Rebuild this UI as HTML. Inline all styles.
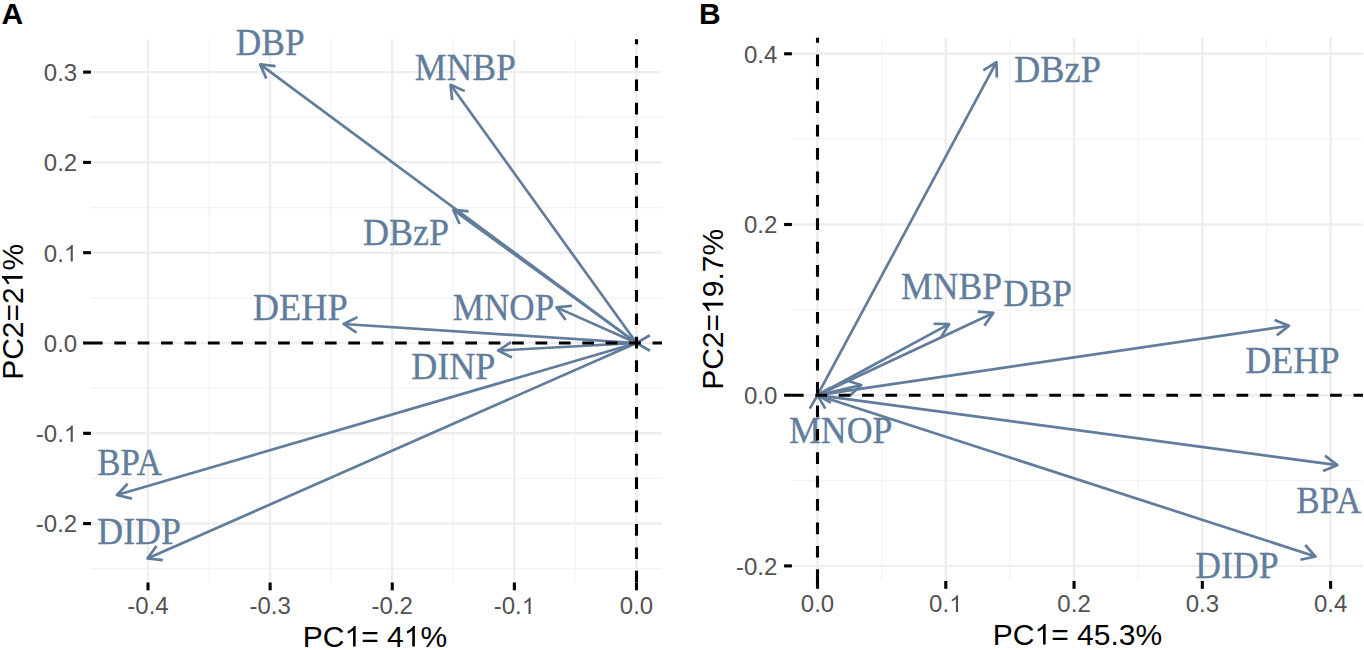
<!DOCTYPE html>
<html><head><meta charset="utf-8"><title>PCA biplots</title>
<style>html,body{margin:0;padding:0;background:#fff;width:1364px;height:650px;overflow:hidden}svg{display:block}</style>
</head><body>
<svg width="1364" height="650" viewBox="0 0 1364 650">
<rect width="1364" height="650" fill="#fff"/>
<line x1="209.06" y1="39.20" x2="209.06" y2="582.50" stroke="#f3f3f3" stroke-width="1.3" />
<line x1="331.19" y1="39.20" x2="331.19" y2="582.50" stroke="#f3f3f3" stroke-width="1.3" />
<line x1="453.31" y1="39.20" x2="453.31" y2="582.50" stroke="#f3f3f3" stroke-width="1.3" />
<line x1="575.44" y1="39.20" x2="575.44" y2="582.50" stroke="#f3f3f3" stroke-width="1.3" />
<line x1="90.90" y1="117.25" x2="662.00" y2="117.25" stroke="#f3f3f3" stroke-width="1.3" />
<line x1="90.90" y1="207.55" x2="662.00" y2="207.55" stroke="#f3f3f3" stroke-width="1.3" />
<line x1="90.90" y1="297.85" x2="662.00" y2="297.85" stroke="#f3f3f3" stroke-width="1.3" />
<line x1="90.90" y1="388.15" x2="662.00" y2="388.15" stroke="#f3f3f3" stroke-width="1.3" />
<line x1="90.90" y1="478.45" x2="662.00" y2="478.45" stroke="#f3f3f3" stroke-width="1.3" />
<line x1="90.90" y1="568.75" x2="662.00" y2="568.75" stroke="#f3f3f3" stroke-width="1.3" />
<line x1="148.00" y1="39.20" x2="148.00" y2="582.50" stroke="#eeeeee" stroke-width="2.4" />
<line x1="270.12" y1="39.20" x2="270.12" y2="582.50" stroke="#eeeeee" stroke-width="2.4" />
<line x1="392.25" y1="39.20" x2="392.25" y2="582.50" stroke="#eeeeee" stroke-width="2.4" />
<line x1="514.38" y1="39.20" x2="514.38" y2="582.50" stroke="#eeeeee" stroke-width="2.4" />
<line x1="636.50" y1="39.20" x2="636.50" y2="582.50" stroke="#eeeeee" stroke-width="2.4" />
<line x1="90.90" y1="72.10" x2="662.00" y2="72.10" stroke="#eeeeee" stroke-width="2.4" />
<line x1="90.90" y1="162.40" x2="662.00" y2="162.40" stroke="#eeeeee" stroke-width="2.4" />
<line x1="90.90" y1="252.70" x2="662.00" y2="252.70" stroke="#eeeeee" stroke-width="2.4" />
<line x1="90.90" y1="343.00" x2="662.00" y2="343.00" stroke="#eeeeee" stroke-width="2.4" />
<line x1="90.90" y1="433.30" x2="662.00" y2="433.30" stroke="#eeeeee" stroke-width="2.4" />
<line x1="90.90" y1="523.60" x2="662.00" y2="523.60" stroke="#eeeeee" stroke-width="2.4" />
<line x1="881.64" y1="37.80" x2="881.64" y2="581.00" stroke="#f3f3f3" stroke-width="1.3" />
<line x1="1009.91" y1="37.80" x2="1009.91" y2="581.00" stroke="#f3f3f3" stroke-width="1.3" />
<line x1="1138.19" y1="37.80" x2="1138.19" y2="581.00" stroke="#f3f3f3" stroke-width="1.3" />
<line x1="1266.46" y1="37.80" x2="1266.46" y2="581.00" stroke="#f3f3f3" stroke-width="1.3" />
<line x1="791.90" y1="139.15" x2="1363.00" y2="139.15" stroke="#f3f3f3" stroke-width="1.3" />
<line x1="791.90" y1="309.85" x2="1363.00" y2="309.85" stroke="#f3f3f3" stroke-width="1.3" />
<line x1="791.90" y1="480.55" x2="1363.00" y2="480.55" stroke="#f3f3f3" stroke-width="1.3" />
<line x1="817.50" y1="37.80" x2="817.50" y2="581.00" stroke="#eeeeee" stroke-width="2.4" />
<line x1="945.77" y1="37.80" x2="945.77" y2="581.00" stroke="#eeeeee" stroke-width="2.4" />
<line x1="1074.05" y1="37.80" x2="1074.05" y2="581.00" stroke="#eeeeee" stroke-width="2.4" />
<line x1="1202.33" y1="37.80" x2="1202.33" y2="581.00" stroke="#eeeeee" stroke-width="2.4" />
<line x1="1330.60" y1="37.80" x2="1330.60" y2="581.00" stroke="#eeeeee" stroke-width="2.4" />
<line x1="791.90" y1="53.80" x2="1363.00" y2="53.80" stroke="#eeeeee" stroke-width="2.4" />
<line x1="791.90" y1="224.50" x2="1363.00" y2="224.50" stroke="#eeeeee" stroke-width="2.4" />
<line x1="791.90" y1="395.20" x2="1363.00" y2="395.20" stroke="#eeeeee" stroke-width="2.4" />
<line x1="791.90" y1="565.90" x2="1363.00" y2="565.90" stroke="#eeeeee" stroke-width="2.4" />
<line x1="636.50" y1="343.00" x2="260.16" y2="64.41" stroke="#627d9c" stroke-width="2.7" />
<polyline points="266.34,78.63 260.16,64.41 275.56,66.17" fill="none" stroke="#627d9c" stroke-width="2.7" stroke-linejoin="round"/>
<line x1="636.50" y1="343.00" x2="450.60" y2="84.77" stroke="#627d9c" stroke-width="2.7" />
<polyline points="452.15,100.20 450.60,84.77 464.73,91.14" fill="none" stroke="#627d9c" stroke-width="2.7" stroke-linejoin="round"/>
<line x1="636.50" y1="343.00" x2="453.27" y2="209.81" stroke="#627d9c" stroke-width="2.7" />
<polyline points="459.57,223.97 453.27,209.81 468.69,211.43" fill="none" stroke="#627d9c" stroke-width="2.7" stroke-linejoin="round"/>
<line x1="636.50" y1="343.00" x2="556.50" y2="307.39" stroke="#627d9c" stroke-width="2.7" />
<polyline points="565.61,319.93 556.50,307.39 571.91,305.77" fill="none" stroke="#627d9c" stroke-width="2.7" stroke-linejoin="round"/>
<line x1="636.50" y1="343.00" x2="343.60" y2="323.98" stroke="#627d9c" stroke-width="2.7" />
<polyline points="356.49,332.58 343.60,323.98 357.49,317.11" fill="none" stroke="#627d9c" stroke-width="2.7" stroke-linejoin="round"/>
<line x1="636.50" y1="343.00" x2="498.10" y2="350.53" stroke="#627d9c" stroke-width="2.7" />
<polyline points="511.92,357.54 498.10,350.53 511.08,342.07" fill="none" stroke="#627d9c" stroke-width="2.7" stroke-linejoin="round"/>
<line x1="636.50" y1="343.00" x2="116.95" y2="494.96" stroke="#627d9c" stroke-width="2.7" />
<polyline points="132.01,498.63 116.95,494.96 127.66,483.76" fill="none" stroke="#627d9c" stroke-width="2.7" stroke-linejoin="round"/>
<line x1="636.50" y1="343.00" x2="147.40" y2="558.52" stroke="#627d9c" stroke-width="2.7" />
<polyline points="162.81,560.20 147.40,558.52 156.56,546.01" fill="none" stroke="#627d9c" stroke-width="2.7" stroke-linejoin="round"/>
<polyline points="649.92,350.75 636.50,343.00 649.92,335.25" fill="none" stroke="#627d9c" stroke-width="2.7" stroke-linejoin="round"/>
<line x1="817.50" y1="395.20" x2="996.43" y2="62.16" stroke="#627d9c" stroke-width="2.7" />
<polyline points="983.25,70.31 996.43,62.16 996.91,77.65" fill="none" stroke="#627d9c" stroke-width="2.7" stroke-linejoin="round"/>
<line x1="817.50" y1="395.20" x2="949.04" y2="324.17" stroke="#627d9c" stroke-width="2.7" />
<polyline points="933.55,323.73 949.04,324.17 940.91,337.37" fill="none" stroke="#627d9c" stroke-width="2.7" stroke-linejoin="round"/>
<line x1="817.50" y1="395.20" x2="993.31" y2="312.91" stroke="#627d9c" stroke-width="2.7" />
<polyline points="977.87,311.58 993.31,312.91 984.44,325.62" fill="none" stroke="#627d9c" stroke-width="2.7" stroke-linejoin="round"/>
<line x1="817.50" y1="395.20" x2="1289.01" y2="325.77" stroke="#627d9c" stroke-width="2.7" />
<polyline points="1274.60,320.06 1289.01,325.77 1276.86,335.40" fill="none" stroke="#627d9c" stroke-width="2.7" stroke-linejoin="round"/>
<line x1="817.50" y1="395.20" x2="1337.31" y2="465.14" stroke="#627d9c" stroke-width="2.7" />
<polyline points="1325.04,455.67 1337.31,465.14 1322.97,471.03" fill="none" stroke="#627d9c" stroke-width="2.7" stroke-linejoin="round"/>
<line x1="817.50" y1="395.20" x2="1315.56" y2="556.53" stroke="#627d9c" stroke-width="2.7" />
<polyline points="1305.18,545.02 1315.56,556.53 1300.40,559.77" fill="none" stroke="#627d9c" stroke-width="2.7" stroke-linejoin="round"/>
<line x1="817.50" y1="395.20" x2="861.33" y2="384.97" stroke="#627d9c" stroke-width="2.7" />
<polyline points="846.50,380.48 861.33,384.97 850.02,395.57" fill="none" stroke="#627d9c" stroke-width="2.7" stroke-linejoin="round"/>
<polyline points="830.92,402.95 817.50,395.20 830.92,387.45" fill="none" stroke="#627d9c" stroke-width="2.7" stroke-linejoin="round"/>
<polyline points="809.75,408.62 817.50,395.20 825.25,408.62" fill="none" stroke="#627d9c" stroke-width="2.7" stroke-linejoin="round"/>
<text transform="translate(235.84,55.20) scale(0.9079,1)" font-family="Liberation Serif" font-size="38.9" fill="#627d9c" stroke="#627d9c" stroke-width="0.3">DBP</text>
<text transform="translate(414.83,79.80) scale(0.9174,1)" font-family="Liberation Serif" font-size="38.9" fill="#627d9c" stroke="#627d9c" stroke-width="0.3">MNBP</text>
<text transform="translate(362.92,245.40) scale(0.9274,1)" font-family="Liberation Serif" font-size="38.9" fill="#627d9c" stroke="#627d9c" stroke-width="0.3">DBzP</text>
<text transform="translate(452.75,320.20) scale(0.9034,1)" font-family="Liberation Serif" font-size="38.9" fill="#627d9c" stroke="#627d9c" stroke-width="0.3">MNOP</text>
<text transform="translate(252.71,319.90) scale(0.9352,1)" font-family="Liberation Serif" font-size="38.9" fill="#627d9c" stroke="#627d9c" stroke-width="0.3">DEHP</text>
<text transform="translate(411.22,379.20) scale(0.9270,1)" font-family="Liberation Serif" font-size="38.9" fill="#627d9c" stroke="#627d9c" stroke-width="0.3">DINP</text>
<text transform="translate(97.25,474.80) scale(0.8969,1)" font-family="Liberation Serif" font-size="38.9" fill="#627d9c" stroke="#627d9c" stroke-width="0.3">BPA</text>
<text transform="translate(97.22,543.70) scale(0.9236,1)" font-family="Liberation Serif" font-size="38.9" fill="#627d9c" stroke="#627d9c" stroke-width="0.3">DIDP</text>
<text transform="translate(1014.01,81.60) scale(0.9363,1)" font-family="Liberation Serif" font-size="38.9" fill="#627d9c" stroke="#627d9c" stroke-width="0.3">DBzP</text>
<text transform="translate(901.03,299.40) scale(0.9165,1)" font-family="Liberation Serif" font-size="38.9" fill="#627d9c" stroke="#627d9c" stroke-width="0.3">MNBP</text>
<text transform="translate(1003.14,306.30) scale(0.9093,1)" font-family="Liberation Serif" font-size="38.9" fill="#627d9c" stroke="#627d9c" stroke-width="0.3">DBP</text>
<text transform="translate(1245.22,372.70) scale(0.9281,1)" font-family="Liberation Serif" font-size="38.9" fill="#627d9c" stroke="#627d9c" stroke-width="0.3">DEHP</text>
<text transform="translate(1296.35,512.80) scale(0.8997,1)" font-family="Liberation Serif" font-size="38.9" fill="#627d9c" stroke="#627d9c" stroke-width="0.3">BPA</text>
<text transform="translate(1195.33,578.10) scale(0.9179,1)" font-family="Liberation Serif" font-size="38.9" fill="#627d9c" stroke="#627d9c" stroke-width="0.3">DIDP</text>
<text transform="translate(788.92,443.10) scale(0.9216,1)" font-family="Liberation Serif" font-size="38.9" fill="#627d9c" stroke="#627d9c" stroke-width="0.3">MNOP</text>
<line x1="90.9" y1="343.0" x2="662" y2="343.0" stroke="#000" stroke-width="3.1" stroke-dasharray="11.7 11.7"/>
<line x1="636.5" y1="582.5" x2="636.5" y2="39.2" stroke="#000" stroke-width="3.1" stroke-dasharray="11.7 11.7"/>
<line x1="791.9" y1="395.2" x2="1363" y2="395.2" stroke="#000" stroke-width="3.1" stroke-dasharray="11.7 11.7"/>
<line x1="817.5" y1="581" x2="817.5" y2="37.8" stroke="#000" stroke-width="3.1" stroke-dasharray="11.7 11.7"/>
<line x1="148.00" y1="582.50" x2="148.00" y2="590.30" stroke="#000" stroke-width="3.1" />
<line x1="270.12" y1="582.50" x2="270.12" y2="590.30" stroke="#000" stroke-width="3.1" />
<line x1="392.25" y1="582.50" x2="392.25" y2="590.30" stroke="#000" stroke-width="3.1" />
<line x1="514.38" y1="582.50" x2="514.38" y2="590.30" stroke="#000" stroke-width="3.1" />
<line x1="636.50" y1="582.50" x2="636.50" y2="590.30" stroke="#000" stroke-width="3.1" />
<line x1="83.10" y1="72.10" x2="90.90" y2="72.10" stroke="#000" stroke-width="3.1" />
<line x1="83.10" y1="162.40" x2="90.90" y2="162.40" stroke="#000" stroke-width="3.1" />
<line x1="83.10" y1="252.70" x2="90.90" y2="252.70" stroke="#000" stroke-width="3.1" />
<line x1="83.10" y1="343.00" x2="90.90" y2="343.00" stroke="#000" stroke-width="3.1" />
<line x1="83.10" y1="433.30" x2="90.90" y2="433.30" stroke="#000" stroke-width="3.1" />
<line x1="83.10" y1="523.60" x2="90.90" y2="523.60" stroke="#000" stroke-width="3.1" />
<line x1="817.50" y1="581.00" x2="817.50" y2="588.80" stroke="#000" stroke-width="3.1" />
<line x1="945.77" y1="581.00" x2="945.77" y2="588.80" stroke="#000" stroke-width="3.1" />
<line x1="1074.05" y1="581.00" x2="1074.05" y2="588.80" stroke="#000" stroke-width="3.1" />
<line x1="1202.33" y1="581.00" x2="1202.33" y2="588.80" stroke="#000" stroke-width="3.1" />
<line x1="1330.60" y1="581.00" x2="1330.60" y2="588.80" stroke="#000" stroke-width="3.1" />
<line x1="784.10" y1="53.80" x2="791.90" y2="53.80" stroke="#000" stroke-width="3.1" />
<line x1="784.10" y1="224.50" x2="791.90" y2="224.50" stroke="#000" stroke-width="3.1" />
<line x1="784.10" y1="395.20" x2="791.90" y2="395.20" stroke="#000" stroke-width="3.1" />
<line x1="784.10" y1="565.90" x2="791.90" y2="565.90" stroke="#000" stroke-width="3.1" />
<g><text id="s0" x="148.00" y="614.00" text-anchor="middle" font-family="Liberation Sans" font-size="24" fill="#525252">-0.4</text></g>
<g><text id="s1" x="270.12" y="614.00" text-anchor="middle" font-family="Liberation Sans" font-size="24" fill="#525252">-0.3</text></g>
<g><text id="s2" x="392.25" y="614.00" text-anchor="middle" font-family="Liberation Sans" font-size="24" fill="#525252">-0.2</text></g>
<g><text id="s3" x="514.38" y="614.00" text-anchor="middle" font-family="Liberation Sans" font-size="24" fill="#525252">-0. </text><path transform="translate(521.70,614.00) scale(0.01172,-0.01123)" d="M763 0L583 0L583 1147Q518 1085 465 1054Q412 1023 359 992Q306 961 222 930L222 1104Q373 1175 429.5 1225.5Q486 1276 542.5 1326.5Q599 1377 646 1472L763 1472Z" fill="#525252"/></g>
<g><text id="s4" x="636.50" y="614.00" text-anchor="middle" font-family="Liberation Sans" font-size="24" fill="#525252">0.0</text></g>
<g><text id="s5" x="77.20" y="80.90" text-anchor="end" font-family="Liberation Sans" font-size="24" fill="#525252">0.3</text></g>
<g><text id="s6" x="77.20" y="171.20" text-anchor="end" font-family="Liberation Sans" font-size="24" fill="#525252">0.2</text></g>
<g><text id="s7" x="77.20" y="261.50" text-anchor="end" font-family="Liberation Sans" font-size="24" fill="#525252">0. </text><path transform="translate(63.84,261.50) scale(0.01172,-0.01123)" d="M763 0L583 0L583 1147Q518 1085 465 1054Q412 1023 359 992Q306 961 222 930L222 1104Q373 1175 429.5 1225.5Q486 1276 542.5 1326.5Q599 1377 646 1472L763 1472Z" fill="#525252"/></g>
<g><text id="s8" x="77.20" y="351.80" text-anchor="end" font-family="Liberation Sans" font-size="24" fill="#525252">0.0</text></g>
<g><text id="s9" x="77.20" y="442.10" text-anchor="end" font-family="Liberation Sans" font-size="24" fill="#525252">-0. </text><path transform="translate(63.84,442.10) scale(0.01172,-0.01123)" d="M763 0L583 0L583 1147Q518 1085 465 1054Q412 1023 359 992Q306 961 222 930L222 1104Q373 1175 429.5 1225.5Q486 1276 542.5 1326.5Q599 1377 646 1472L763 1472Z" fill="#525252"/></g>
<g><text id="s10" x="77.20" y="532.40" text-anchor="end" font-family="Liberation Sans" font-size="24" fill="#525252">-0.2</text></g>
<g><text id="s11" x="817.50" y="611.90" text-anchor="middle" font-family="Liberation Sans" font-size="24" fill="#525252">0.0</text></g>
<g><text id="s12" x="945.77" y="611.90" text-anchor="middle" font-family="Liberation Sans" font-size="24" fill="#525252">0. </text><path transform="translate(949.10,611.90) scale(0.01172,-0.01123)" d="M763 0L583 0L583 1147Q518 1085 465 1054Q412 1023 359 992Q306 961 222 930L222 1104Q373 1175 429.5 1225.5Q486 1276 542.5 1326.5Q599 1377 646 1472L763 1472Z" fill="#525252"/></g>
<g><text id="s13" x="1074.05" y="611.90" text-anchor="middle" font-family="Liberation Sans" font-size="24" fill="#525252">0.2</text></g>
<g><text id="s14" x="1202.33" y="611.90" text-anchor="middle" font-family="Liberation Sans" font-size="24" fill="#525252">0.3</text></g>
<g><text id="s15" x="1330.60" y="611.90" text-anchor="middle" font-family="Liberation Sans" font-size="24" fill="#525252">0.4</text></g>
<g><text id="s16" x="777.30" y="62.60" text-anchor="end" font-family="Liberation Sans" font-size="24" fill="#525252">0.4</text></g>
<g><text id="s17" x="777.30" y="233.30" text-anchor="end" font-family="Liberation Sans" font-size="24" fill="#525252">0.2</text></g>
<g><text id="s18" x="777.30" y="404.00" text-anchor="end" font-family="Liberation Sans" font-size="24" fill="#525252">0.0</text></g>
<g><text id="s19" x="777.30" y="574.70" text-anchor="end" font-family="Liberation Sans" font-size="24" fill="#525252">-0.2</text></g>
<g><text id="s20" x="374.95" y="646.60" text-anchor="middle" font-family="Liberation Sans" font-size="30" fill="#000">PC = 4 %</text><path transform="translate(344.49,646.60) scale(0.01465,-0.01403)" d="M763 0L583 0L583 1147Q518 1085 465 1054Q412 1023 359 992Q306 961 222 930L222 1104Q373 1175 429.5 1225.5Q486 1276 542.5 1326.5Q599 1377 646 1472L763 1472Z" fill="#000"/><path transform="translate(403.71,646.60) scale(0.01465,-0.01403)" d="M763 0L583 0L583 1147Q518 1085 465 1054Q412 1023 359 992Q306 961 222 930L222 1104Q373 1175 429.5 1225.5Q486 1276 542.5 1326.5Q599 1377 646 1472L763 1472Z" fill="#000"/></g>
<g><text id="s21" x="1077.45" y="644.60" text-anchor="middle" font-family="Liberation Sans" font-size="30" fill="#000">PC = 45.3%</text><path transform="translate(1034.48,644.60) scale(0.01465,-0.01403)" d="M763 0L583 0L583 1147Q518 1085 465 1054Q412 1023 359 992Q306 961 222 930L222 1104Q373 1175 429.5 1225.5Q486 1276 542.5 1326.5Q599 1377 646 1472L763 1472Z" fill="#000"/></g>
<g transform="translate(22.6,311.85) rotate(-90)"><text id="s22" x="0.00" y="0.00" text-anchor="middle" font-family="Liberation Sans" font-size="30" fill="#000">PC2=2 %</text><path transform="translate(24.59,0.00) scale(0.01465,-0.01403)" d="M763 0L583 0L583 1147Q518 1085 465 1054Q412 1023 359 992Q306 961 222 930L222 1104Q373 1175 429.5 1225.5Q486 1276 542.5 1326.5Q599 1377 646 1472L763 1472Z" fill="#000"/></g>
<g transform="translate(723.2,309.40) rotate(-90)"><text id="s23" x="0.00" y="0.00" text-anchor="middle" font-family="Liberation Sans" font-size="30" fill="#000">PC2= 9.7%</text><path transform="translate(-4.60,0.00) scale(0.01465,-0.01403)" d="M763 0L583 0L583 1147Q518 1085 465 1054Q412 1023 359 992Q306 961 222 930L222 1104Q373 1175 429.5 1225.5Q486 1276 542.5 1326.5Q599 1377 646 1472L763 1472Z" fill="#000"/></g>
<text x="1.4" y="24" font-family="Liberation Sans" font-weight="bold" font-size="30" fill="#000">A</text>
<text x="699" y="24" font-family="Liberation Sans" font-weight="bold" font-size="30" fill="#000">B</text>
</svg>
</body></html>
